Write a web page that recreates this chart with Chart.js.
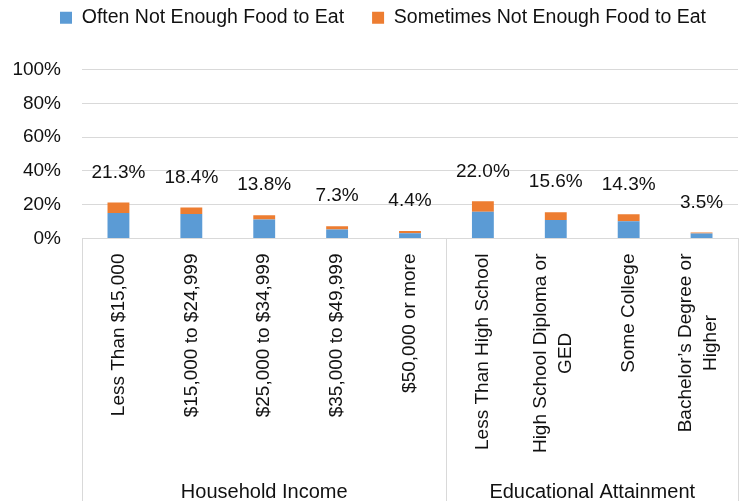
<!DOCTYPE html>
<html>
<head>
<meta charset="utf-8">
<script src="https://cdn.jsdelivr.net/npm/chart.js@4/dist/chart.umd.min.js"></script>
<style>
  html, body { margin: 0; padding: 0; background: #fff; }
  canvas { display: block; }
</style>
</head>
<body>
<canvas id="chart" width="742" height="501"></canvas>
<script>
// ---- data ----
const categories = [
  ['Less Than $15,000'],
  ['$15,000 to $24,999'],
  ['$25,000 to $34,999'],
  ['$35,000 to $49,999'],
  ['$50,000 or more'],
  ['Less Than High School'],
  ['High School Diploma or', 'GED'],
  ['Some College'],
  ['Bachelor\u2019s Degree or', 'Higher']
];
const often     = [15.1, 14.5, 11.2, 5.3, 3.1, 15.9, 11.0, 10.2, 2.9];
const sometimes = [6.2, 3.9, 2.6, 2.0, 1.3, 6.1, 4.6, 4.1, 0.6];
const totals    = [21.3, 18.4, 13.8, 7.3, 4.4, 22.0, 15.6, 14.3, 3.5];
const groupNames = ['Household Income', 'Educational Attainment'];
const groupSizes = [5, 4];

const INK = '#111';
const GRID = '#d9d9d9';
const FONT = '"Liberation Sans", Arial, sans-serif';

// totals above the stacks, category labels, group labels and separators
const overlay = {
  id: 'overlay',
  beforeInit(chart) {
    const lg = chart.legend;
    if (lg) {
      const fit = lg.fit;
      lg.fit = function () { fit.call(this); this.height = 89.5; };
    }
  },
  afterLayout(chart) {
    // nudge the legend right so it sits where the original one does
    if (chart.legend) { chart.legend.left += 9; chart.legend.right += 9; }
  },
  afterDatasetsDraw(chart) {
    const { ctx } = chart;
    const topMeta = chart.getDatasetMeta(1);
    ctx.save();
    ctx.fillStyle = INK;
    ctx.font = '19px ' + FONT;
    ctx.textAlign = 'center';
    ctx.textBaseline = 'middle';
    topMeta.data.forEach((bar, i) => {
      ctx.fillText(totals[i].toFixed(1) + '%', bar.x, bar.y - 30);
    });
    ctx.restore();
  },
  afterDraw(chart) {
    const { ctx, chartArea: area, scales: { x } } = chart;
    const H = chart.height;
    ctx.save();

    // category labels, rotated; a wrapped label is a block whose lines are centred
    ctx.fillStyle = INK;
    ctx.font = '19px ' + FONT;
    ctx.textAlign = 'center';
    ctx.textBaseline = 'middle';
    const lh = 25;
    categories.forEach((lines, i) => {
      const px = x.getPixelForValue(i);
      const blockW = Math.max(...lines.map(l => ctx.measureText(l).width));
      lines.forEach((line, j) => {
        const off = (j - (lines.length - 1) / 2) * lh - (lines.length > 1 ? 3 : 0);
        ctx.save();
        ctx.translate(px + off, area.bottom + 15);
        ctx.rotate(-Math.PI / 2);
        ctx.fillText(line, -blockW / 2, 0);
        ctx.restore();
      });
    });

    // group separators and names
    ctx.strokeStyle = GRID;
    ctx.lineWidth = 1;
    const edges = [area.left];
    let idx = 0;
    groupSizes.forEach(n => {
      idx += n;
      edges.push(idx < categories.length
        ? (x.getPixelForValue(idx - 1) + x.getPixelForValue(idx)) / 2
        : area.right);
    });
    edges.forEach(ex => {
      const xx = Math.round(ex) + 0.5;
      ctx.beginPath();
      ctx.moveTo(xx, area.bottom);
      ctx.lineTo(xx, H);
      ctx.stroke();
    });
    ctx.font = '20px ' + FONT;
    ctx.textAlign = 'center';
    groupNames.forEach((name, g) => {
      ctx.fillText(name, (edges[g] + edges[g + 1]) / 2, 492);
    });
    ctx.restore();
  }
};

new Chart(document.getElementById('chart'), {
  type: 'bar',
  data: {
    labels: categories,
    datasets: [
      {
        label: 'Often Not Enough Food to Eat',
        data: often,
        backgroundColor: '#5b9bd5',
        borderWidth: 0,
        barPercentage: 0.3,
        categoryPercentage: 1
      },
      {
        label: 'Sometimes Not Enough Food to Eat',
        data: sometimes,
        backgroundColor: '#ed7d31',
        borderWidth: 0,
        barPercentage: 0.3,
        categoryPercentage: 1
      }
    ]
  },
  options: {
    responsive: false,
    animation: false,
    layout: { padding: { top: -20, left: 10, right: 4, bottom: 0 } },
    plugins: {
      legend: {
        position: 'top',
        labels: {
          color: INK,
          font: { family: FONT, size: 19.5 },
          boxWidth: 12,
          boxHeight: 12,
          padding: 28
        }
      },
      tooltip: { enabled: false }
    },
    scales: {
      x: {
        stacked: true,
        grid: { display: false },
        border: { display: true, color: GRID },
        ticks: { display: false },
        afterFit: s => { s.height = 262.5; }
      },
      y: {
        stacked: true,
        min: 0,
        max: 100,
        grid: { color: GRID, drawTicks: false },
        border: { display: false },
        ticks: {
          stepSize: 20,
          padding: 21,
          color: INK,
          font: { family: FONT, size: 19 },
          callback: v => v + '%'
        },
        afterFit: s => { s.width = 72; }
      }
    }
  },
  plugins: [overlay]
});
</script>
</body>
</html>
